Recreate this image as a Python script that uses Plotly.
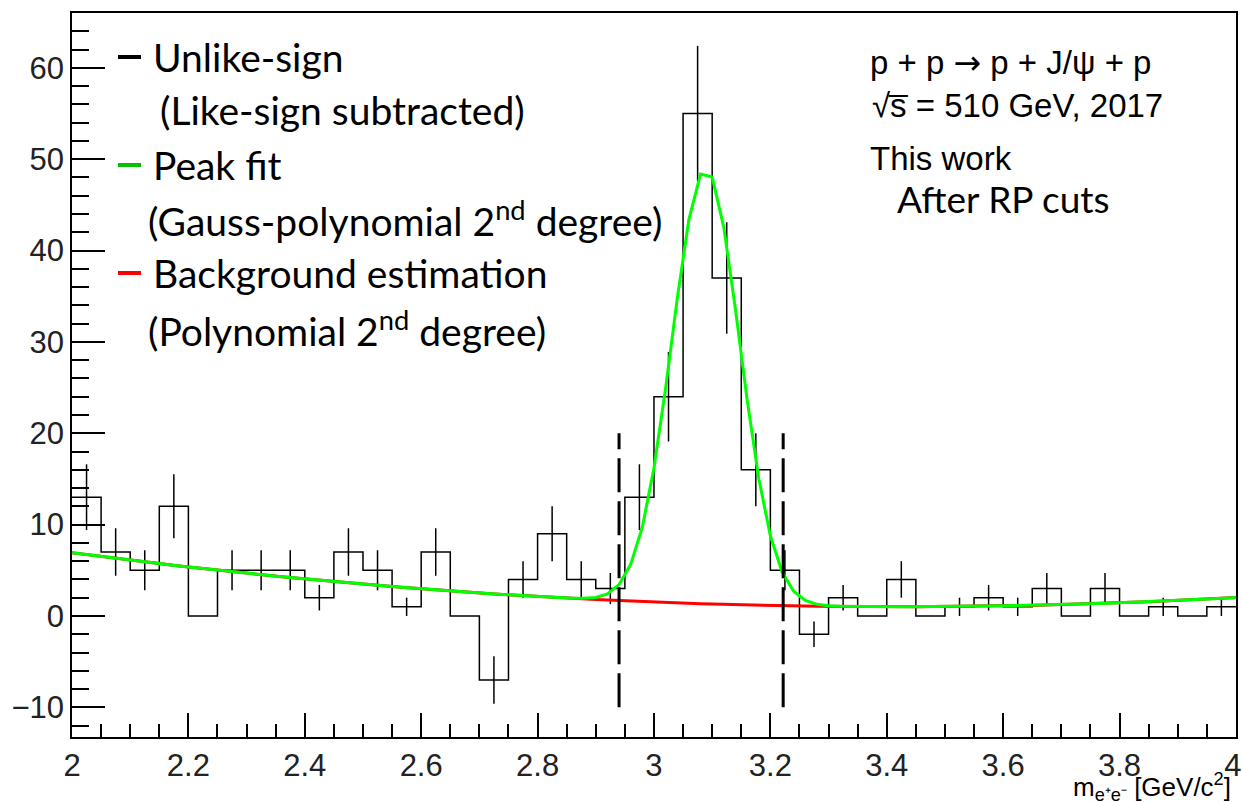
import numpy as np
import plotly.graph_objects as go

# ---- data -------------------------------------------------------------
# invariant-mass histogram, 40 bins of 50 MeV between 2 and 4 GeV/c^2
bin_lo, bin_hi, n_bins = 2.0, 4.0, 40
counts = [13, 7, 5, 12, 0, 5, 5, 5, 2, 7,
          5, 1, 7, 0, -7, 4, 9, 4, 3, 13,
          24, 55, 37, 16, 5, -2, 2, 0, 4, 0,
          1, 2, 1, 3, 0, 3, 0, 1, 0, 1]
errors = [3.6, 2.6, 2.2, 3.5, 0.0, 2.2, 2.2, 2.2, 1.4, 2.6,
          2.2, 1.0, 2.6, 0.0, 2.6, 2.0, 3.0, 2.0, 1.7, 3.6,
          4.9, 7.4, 6.1, 4.0, 2.2, 1.4, 1.4, 0.0, 2.0, 0.0,
          1.0, 1.4, 1.0, 1.7, 0.0, 1.7, 0.0, 1.0, 0.0, 1.0]

# fit results
bkg_pol2 = [35.33, -20.09, 2.94]      # p0 + p1*m + p2*m^2
gauss_par = [47.6, 3.089, 0.058]      # amplitude, mean, sigma
fit_npx = 100                         # TF1 sampling points

# signal mass window
mass_window = [2.94, 3.222]
window_y = [-10, 20]

x_ticks = [2, 2.2, 2.4, 2.6, 2.8, 3, 3.2, 3.4, 3.6, 3.8, 4]
x_tick_text = ["2", "2.2", "2.4", "2.6", "2.8", "3", "3.2", "3.4", "3.6", "3.8", "4\u2009"]
y_ticks = [-10, 0, 10, 20, 30, 40, 50, 60]

# ---- derived ----------------------------------------------------------
edges = np.linspace(bin_lo, bin_hi, n_bins + 1)
centers = 0.5 * (edges[:-1] + edges[1:])
m = np.linspace(bin_lo, bin_hi, fit_npx + 1)
bkg = bkg_pol2[0] + bkg_pol2[1] * m + bkg_pol2[2] * m ** 2
peak = bkg + gauss_par[0] * np.exp(-0.5 * ((m - gauss_par[1]) / gauss_par[2]) ** 2)

# ---- geometry helpers (pixel -> paper) ---------------------------------
W, H = 1242, 802
L, R, T, B = 72, 6, 13, 65
PW, PH = W - L - R, H - T - B


def px(xp):
    return (xp - L) / PW


def py(yp):
    return (H - B - yp) / PH


fig = go.Figure()

# histogram outline
fig.add_trace(go.Scatter(
    x=edges, y=list(counts) + [counts[-1]], mode="lines",
    line=dict(shape="hv", color="black", width=1.5),
    hoverinfo="skip", showlegend=False))

# statistical errors
fig.add_trace(go.Scatter(
    x=centers, y=counts, mode="markers",
    marker=dict(size=1, color="black", opacity=0),
    error_y=dict(type="data", array=errors, visible=True,
                 color="black", thickness=1.5, width=0),
    hoverinfo="skip", showlegend=False))

# background estimation
fig.add_trace(go.Scatter(
    x=m, y=bkg, mode="lines", line=dict(color="#ff0000", width=3),
    hoverinfo="skip", showlegend=False))

# peak fit
fig.add_trace(go.Scatter(
    x=m, y=peak, mode="lines", line=dict(color="#00ff00", width=3),
    hoverinfo="skip", showlegend=False))

# mass window
for xw in mass_window:
    fig.add_trace(go.Scatter(
        x=[xw, xw], y=window_y, mode="lines",
        line=dict(color="black", width=3, dash="34px,9px"),
        hoverinfo="skip", showlegend=False))

# ---- legend built from annotations --------------------------------------
leg_font = dict(family="Lato", size=39, color="black")
legend_rows = [
    ("black", "Unlike-sign", 151, 57),
    (None, " (Like-sign subtracted)", 148, 110),
    ("#00c000", "Peak fit", 151, 165),
    (None, "(Gauss-polynomial 2<sup>nd</sup> degree)", 146, 218),
    ("#ff0000", "Background estimation", 151, 273),
    (None, "(Polynomial 2<sup>nd</sup> degree)", 146, 328),
]
shapes = []
annotations = []
for col, txt, xl, yc in legend_rows:
    if col is not None:
        shapes.append(dict(type="line", xref="paper", yref="paper",
                           x0=px(118), x1=px(141), y0=py(yc), y1=py(yc),
                           line=dict(color=col, width=4)))
    annotations.append(dict(text=txt, xref="paper", yref="paper",
                            x=px(xl), y=py(yc), xanchor="left", yanchor="middle",
                            showarrow=False, font=leg_font))

info_font = dict(family="Liberation Sans", size=33, color="black")
for txt, xl, yc, fnt in [
    ("p + p <span style='font-family:DejaVu Sans'>\u2192</span> p + J/\u03c8 + p",
     868, 63, info_font),
    ("\u221as\u0305 = 510 GeV, 2017", 870, 106, info_font),
    ("This work", 868, 158, info_font),
    ("After RP cuts", 895, 199, dict(family="Lato", size=37, color="black")),
]:
    annotations.append(dict(text=txt, xref="paper", yref="paper",
                            x=px(xl), y=py(yc), xanchor="left", yanchor="middle",
                            showarrow=False, font=fnt))

# axis title
annotations.append(dict(
    text="m<sub>e\u207ae\u207b</sub> [GeV/c<sup>2</sup>]",
    xref="paper", yref="paper", x=px(1233), y=py(787),
    xanchor="right", yanchor="middle", showarrow=False,
    font=dict(family="Liberation Sans", size=26, color="black")))

fig.update_layout(
    width=W, height=H,
    margin=dict(l=L, r=R, t=T, b=B, pad=0, autoexpand=False),
    paper_bgcolor="white", plot_bgcolor="white",
    shapes=shapes, annotations=annotations,
    showlegend=False,
)

axis_common = dict(showgrid=False, zeroline=False, showline=True, linecolor="black",
                   linewidth=1.5, mirror=True, ticks="inside", tickcolor="black",
                   tickwidth=1.5, ticklabeloverflow="allow", automargin=False,
                   tickfont=dict(family="Liberation Sans", size=31, color="#222"))

fig.update_xaxes(range=[bin_lo, bin_hi + 1e-4], tickvals=x_ticks, ticktext=x_tick_text,
                 ticklen=24,
                 minor=dict(ticks="inside", ticklen=13, dtick=0.05, tickcolor="black",
                            tickwidth=1.5, showgrid=False),
                 **axis_common)
fig.update_yaxes(range=[-13.25, 66.0], tickvals=y_ticks, ticklen=33,
                 minor=dict(ticks="inside", ticklen=17, dtick=2, tickcolor="black",
                            tickwidth=1.5, showgrid=False),
                 **axis_common)

fig.write_html("out.html")
